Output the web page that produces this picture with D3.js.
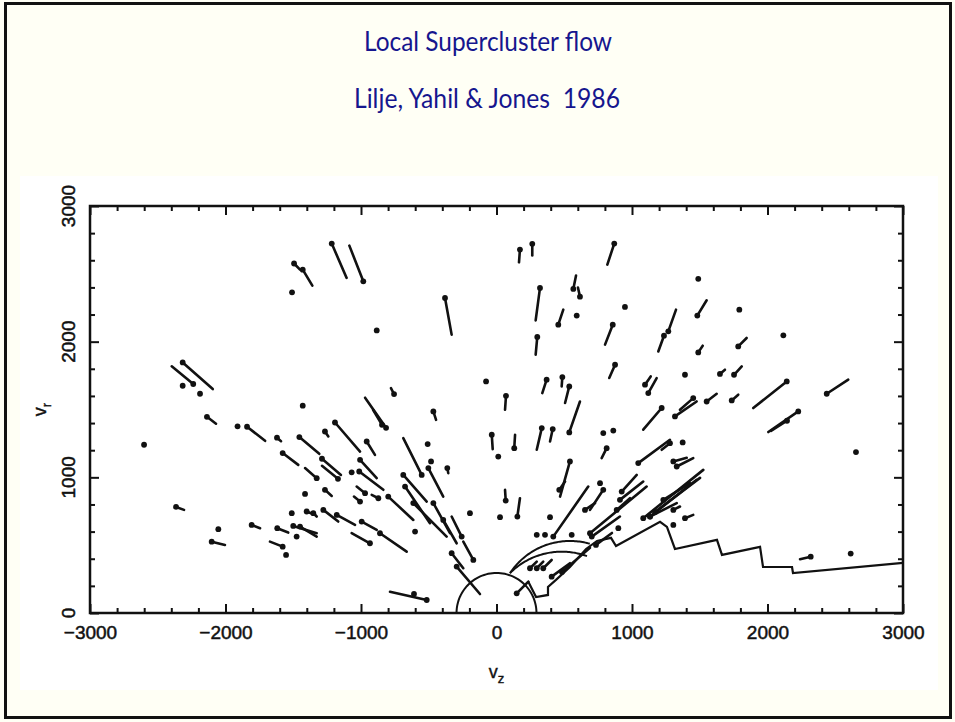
<!DOCTYPE html>
<html>
<head>
<meta charset="utf-8">
<script src="https://cdn.jsdelivr.net/npm/d3@7"></script>
<style>
  body { margin: 0; background: #fffff5; }
  svg { display: block; }
</style>
</head>
<body>
<div id="chart"></div>
<script>
// tick values
var xTicks = [-3000, -2000, -1000, 0, 1000, 2000, 3000];
var yTicks = [0, 1000, 2000, 3000];

// each galaxy: [vz, vr] of the dot, then [vz, vr] of the other end of its line
var flowSegments = [
  [-2365,782,-2306,760], [-2137,1446,-2070,1395], [-1841,1373,-1708,1269], [-1620,1292,-1590,1266],
  [-2316,1847,-2094,1651], [-2238,1688,-2397,1818], [-1494,2576,-1450,2531], [-1430,2531,-1359,2413],
  [-1216,2723,-1106,2470], [-983,2445,-1086,2708], [-380,2322,-331,2052], [173,2679,166,2585],
  [264,2721,264,2635], [321,2396,289,2157], [301,2035,289,1904], [-756,1614,-779,1658],
  [-815,1365,-970,1587], [-845,1387,-911,1498], [70,1601,63,1498], [-466,1486,-446,1424],
  [869,2723,818,2568], [567,2389,587,2487], [616,2332,601,2399], [456,2125,493,2236],
  [858,2125,801,1978], [1268,2076,1325,2236], [1236,2044,1194,1928], [1482,2192,1551,2305],
  [1489,1921,1522,1970], [1784,1965,1846,2027], [875,1830,832,1732], [1649,1762,1686,1793],
  [1753,1756,1810,1818], [370,1720,338,1621], [486,1739,481,1670], [537,1670,506,1548],
  [537,1331,616,1559], [1096,1683,1138,1744], [1120,1621,1182,1732], [1452,1584,1354,1498],
  [1551,1559,1625,1616], [1736,1567,1784,1609], [2142,1707,1895,1511], [2437,1616,2596,1720],
  [2227,1486,2006,1334], [2144,1417,2026,1343], [2319,415,2240,396], [1219,1511,1083,1351],
  [1317,1449,1477,1559], [813,1215,776,1142], [1046,1105,1280,1277], [1280,1252,1219,1203],
  [1330,1080,1452,1142], [1305,1117,1404,1144], [1083,699,1526,1055], [1133,711,1477,982],
  [1231,834,1428,957], [1170,745,1502,996], [1133,711,1330,810], [1305,760,1354,785],
  [1391,699,1452,723], [542,1117,469,858], [463,908,506,969], [419,563,677,932],
  [788,908,690,760], [924,895,1035,1018], [911,834,1083,969], [690,588,1108,932],
  [887,760,985,846], [703,563,911,711], [653,760,727,810], [334,1363,297,1203],
  [415,1356,395,1264], [-35,1314,-28,1208], [131,1215,137,1314], [68,829,63,908],
  [154,711,173,846], [-363,1068,-356,1031], [-1192,1404,-1007,1190], [-1266,1338,-1241,1301],
  [-1455,1297,-1308,1173], [-958,1264,-897,1166], [-552,1018,-688,1289], [-503,1068,-393,858],
  [-1327,994,-1413,1068], [-1578,1179,-1463,1092], [-1288,1137,-1148,1018], [-1170,989,-1288,1085],
  [-1007,1129,-884,994], [-1013,1043,-835,908], [-970,883,-1032,932], [-1007,821,-1052,858],
  [-872,846,-921,871], [-1266,908,-1216,863], [-799,858,-614,686], [-688,1018,-515,821],
  [-675,932,-491,662], [-614,810,-368,563], [-466,810,-343,588], [-393,686,-294,514],
  [-257,563,-331,711], [-171,391,-245,526], [-331,441,-245,330], [-294,342,-122,140],
  [-515,96,-786,157], [-1352,736,-1327,711], [-1278,760,-1168,674], [-1179,723,-1044,649],
  [-995,674,-884,613], [-934,514,-1069,588], [-860,588,-663,452], [-1450,637,-1327,563],
  [-1500,642,-1327,588], [-1618,625,-1537,593], [-1807,649,-1745,625], [-2102,526,-2004,502],
  [-1578,489,-1672,526], [-1401,748,-1339,723], [247,330,297,379], [297,330,345,379],
  [345,330,407,391], [149,145,235,231], [407,268,542,367], [483,303,690,480],
  [734,502,852,590]
];

// galaxies drawn as a dot only
var loneGalaxies = [
  [-2601,1240], [-1911,1376], [-1430,1528], [-2316,1675], [-2188,1616], [-1509,2364],
  [-884,2083], [-77,1707], [592,2192], [948,2256], [1489,2463], [1792,2236], [1391,1756],
  [2117,2047], [2653,1186], [2614,438], [788,1326], [862,1345], [1374,1257], [1305,649],
  [764,957], [395,706], [555,576], [297,576], [358,576], [899,625], [13,1153], [26,706],
  [-196,736], [-508,1245], [-483,1117], [-1069,1037], [-1413,878], [-601,600], [-609,140],
  [-1475,563], [-2053,618], [-1553,428], [-1511,736]
];

// zone boundary (stepped line)
var zoneBoundary = [
  [232,236], [292,118], [380,133], [380,192], [439,244], [542,339], [661,472], [742,531],
  [845,554], [882,494], [1207,672], [1258,635], [1317,472], [1627,539], [1664,428],
  [1945,487], [1967,339], [2181,339], [2188,295], [3000,369]
];

// reference arcs: centre vz, centre vr, radius, start angle, end angle (degrees)
var refArcs = [
  [0, 0, 295, 180, 0],
  [542, 0, 531, 146, 74],
  [482, -91, 543, 135, 70]
];

var W = 955, H = 722;
var svg = d3.select("#chart").append("svg").attr("width", W).attr("height", H);

svg.append("rect").attr("x", 0).attr("y", 0).attr("width", W).attr("height", H).attr("fill", "#fffff5");
svg.append("rect").attr("x", 20).attr("y", 176).attr("width", 918).attr("height", 514).attr("fill", "#ffffff");
svg.append("rect").attr("x", 5.5).attr("y", 3.5).attr("width", 945).attr("height", 714)
  .attr("fill", "none").attr("stroke", "#111").attr("stroke-width", 3);

// titles
var titleFont = "Lato, 'Open Sans', sans-serif";
svg.append("text").attr("x", 488).attr("y", 51).attr("text-anchor", "middle")
  .attr("textLength", 248).attr("lengthAdjust", "spacingAndGlyphs")
  .style("font-family", titleFont).style("font-size", "26px").style("fill", "#16168e")
  .text("Local Supercluster flow");
svg.append("text").attr("x", 487).attr("y", 108).attr("text-anchor", "middle")
  .attr("textLength", 266).attr("lengthAdjust", "spacingAndGlyphs")
  .style("font-family", titleFont).style("font-size", "26px").style("fill", "#16168e")
  .style("white-space", "pre")
  .text("Lilje, Yahil & Jones\u00a0 1986");

var x = d3.scaleLinear().domain([-3000, 3000]).range([90, 903]);
var y = d3.scaleLinear().domain([0, 3000]).range([613, 206]);

var ink = "#111";
var minorX = d3.range(-3000, 3001, 200).filter(function (v) { return v % 1000 !== 0; });
var minorY = d3.range(0, 3001, 200).filter(function (v) { return v % 1000 !== 0; });

function styleAxis(g) {
  g.select(".domain").remove();
  g.selectAll(".tick line").attr("stroke", ink).attr("stroke-width", 2);
}

// bottom & top
svg.append("g").attr("transform", "translate(0,613)")
  .call(d3.axisBottom(x).tickValues(minorX).tickSizeInner(-5).tickSizeOuter(0).tickFormat(""))
  .call(styleAxis);
var xb = svg.append("g").attr("transform", "translate(0,613)")
  .call(d3.axisBottom(x).tickValues(xTicks).tickSizeInner(-9).tickSizeOuter(0).tickPadding(13)
    .tickFormat(function (d) { return d < 0 ? "\u2212" + Math.abs(d) : String(d); }))
  .call(styleAxis);
xb.selectAll("text").style("font-family", "'Liberation Sans', Arial, sans-serif")
  .style("font-size", "19px").style("fill", ink).attr("stroke", ink).attr("stroke-width", 0.5);

svg.append("g").attr("transform", "translate(0,206)")
  .call(d3.axisTop(x).tickValues(minorX).tickSizeInner(-5).tickSizeOuter(0).tickFormat(""))
  .call(styleAxis);
svg.append("g").attr("transform", "translate(0,206)")
  .call(d3.axisTop(x).tickValues(xTicks).tickSizeInner(-9).tickSizeOuter(0).tickFormat(""))
  .call(styleAxis);

// left & right
svg.append("g").attr("transform", "translate(90,0)")
  .call(d3.axisLeft(y).tickValues(minorY).tickSizeInner(-5).tickSizeOuter(0).tickFormat(""))
  .call(styleAxis);
svg.append("g").attr("transform", "translate(90,0)")
  .call(d3.axisLeft(y).tickValues(yTicks).tickSizeInner(-9).tickSizeOuter(0).tickFormat(""))
  .call(styleAxis);
svg.append("g").attr("transform", "translate(903,0)")
  .call(d3.axisRight(y).tickValues(minorY).tickSizeInner(-5).tickSizeOuter(0).tickFormat(""))
  .call(styleAxis);
svg.append("g").attr("transform", "translate(903,0)")
  .call(d3.axisRight(y).tickValues(yTicks).tickSizeInner(-9).tickSizeOuter(0).tickFormat(""))
  .call(styleAxis);

// y tick labels, rotated
svg.selectAll(".ylab").data(yTicks).enter().append("text")
  .attr("class", "ylab")
  .attr("transform", function (d) { return "translate(75," + y(d) + ") rotate(-90)"; })
  .attr("text-anchor", "middle")
  .style("font-family", "'Liberation Sans', Arial, sans-serif").style("font-size", "19px")
  .style("fill", ink).attr("stroke", ink).attr("stroke-width", 0.5)
  .text(function (d) { return d; });

// plot frame
svg.append("rect").attr("x", x(-3000)).attr("y", y(3000))
  .attr("width", x(3000) - x(-3000)).attr("height", y(0) - y(3000))
  .attr("fill", "none").attr("stroke", ink).attr("stroke-width", 2.5);

// axis titles
var xt = svg.append("text").attr("x", x(0)).attr("y", 678).attr("text-anchor", "middle")
  .style("font-family", "'Liberation Sans', Arial, sans-serif").style("font-size", "18px")
  .style("fill", ink).attr("stroke", ink).attr("stroke-width", 0.4);
xt.append("tspan").text("v");
xt.append("tspan").attr("dy", 5).style("font-size", "13px").text("z");

var yt = svg.append("text").attr("transform", "translate(46," + y(1500) + ") rotate(-90)")
  .attr("text-anchor", "middle")
  .style("font-family", "'Liberation Sans', Arial, sans-serif").style("font-size", "18px")
  .style("fill", ink).attr("stroke", ink).attr("stroke-width", 0.4);
yt.append("tspan").text("v");
yt.append("tspan").attr("dy", 5).style("font-size", "13px").text("r");

// plot content
var plot = svg.append("g");

var line = d3.line().x(function (d) { return x(d[0]); }).y(function (d) { return y(d[1]); });

plot.selectAll(".arc").data(refArcs).enter().append("path")
  .attr("class", "arc")
  .attr("d", function (a) {
    var n = 60, pts = [];
    for (var i = 0; i <= n; i++) {
      var t = (a[3] + (a[4] - a[3]) * i / n) * Math.PI / 180;
      pts.push([a[0] + a[2] * Math.cos(t), a[1] + a[2] * Math.sin(t)]);
    }
    return line(pts.filter(function (p) { return p[1] >= 0; }));
  })
  .attr("fill", "none").attr("stroke", ink).attr("stroke-width", 2);

plot.append("path").datum(zoneBoundary).attr("d", line)
  .attr("fill", "none").attr("stroke", ink).attr("stroke-width", 2.2).attr("stroke-linejoin", "miter");

plot.selectAll(".seg").data(flowSegments).enter().append("line")
  .attr("class", "seg")
  .attr("x1", function (d) { return x(d[0]); }).attr("y1", function (d) { return y(d[1]); })
  .attr("x2", function (d) { return x(d[2]); }).attr("y2", function (d) { return y(d[3]); })
  .attr("stroke", ink).attr("stroke-width", 2.6).attr("stroke-linecap", "round");

plot.selectAll(".gdot").data(flowSegments.map(function (d) { return [d[0], d[1]]; }).concat(loneGalaxies))
  .enter().append("circle")
  .attr("class", "gdot")
  .attr("cx", function (d) { return x(d[0]); }).attr("cy", function (d) { return y(d[1]); })
  .attr("r", 2.9).attr("fill", ink);
</script>
</body>
</html>
